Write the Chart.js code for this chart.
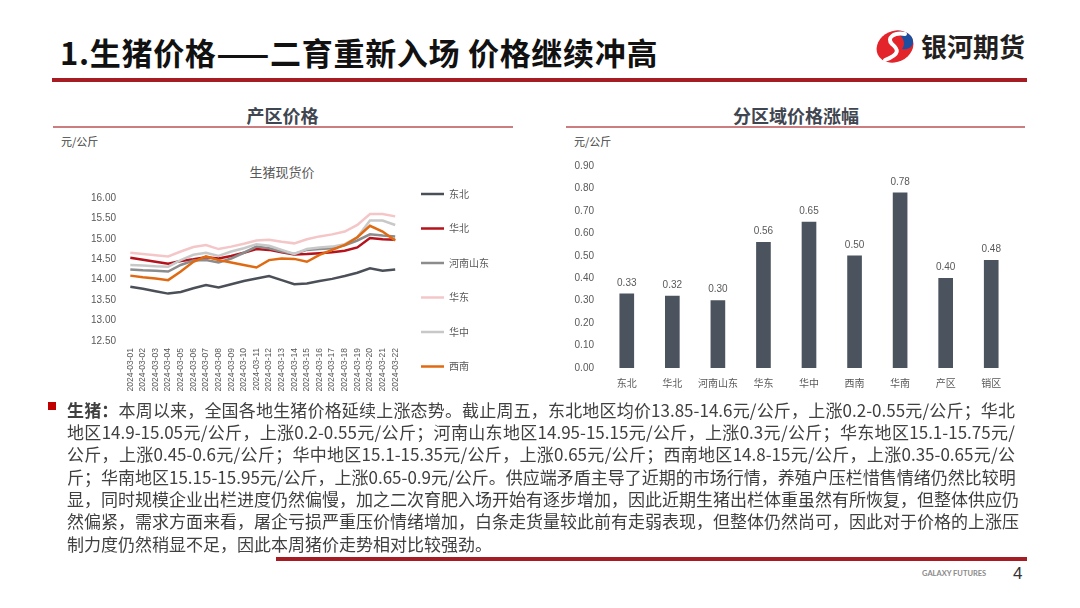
<!DOCTYPE html>
<html>
<head>
<meta charset="utf-8">
<script src="https://cdn.jsdelivr.net/npm/chart.js@4.4.1/dist/chart.umd.min.js"></script>
<style>
  html, body { margin:0; padding:0; background:#ffffff; }
  body { width:1080px; height:608px; position:relative; overflow:hidden; font-family:'Noto Sans CJK SC','Liberation Sans',sans-serif; }
  .abs { position:absolute; white-space:nowrap; }
  .para { position:absolute; left:67px; width:948px; font-size:17px; line-height:22px; color:#404040; white-space:nowrap; text-align:justify; text-align-last:justify; }
  .para.last { text-align-last:left; }
</style>
</head>
<body>
<div class="abs" style="left:60px;top:32px;height:40px;line-height:40px;font-size:31px;letter-spacing:0.7px;font-weight:700;color:#111;">1.生猪价格——二育重新入场 价格继续冲高</div>
<svg class="abs" style="left:874px;top:29px;" width="42" height="35" viewBox="0 0 42 35">
  <ellipse cx="21" cy="17.5" rx="19" ry="15.5" transform="rotate(-25 21 17.5)" fill="#e3242b"/>
  <path d="M22 3 C31 1 40 6 39 14 C38 19 33 21 28 20 C32 15 30 8 22 3 Z" fill="#1e4f9f"/>
  <path d="M31 5 C20 3 12 9 18 15 C24 20 27 25 11 31" stroke="#ffffff" stroke-width="4" fill="none" stroke-linecap="round"/>
</svg>
<div class="abs" style="left:921px;top:30px;height:32px;line-height:32px;font-size:26px;font-weight:700;color:#231f20;">银河期货</div>
<div class="abs" style="left:52px;top:78px;width:975px;height:4px;background:#a51c22;"></div>

<div class="abs" style="left:52px;top:103px;width:461px;height:24px;line-height:24px;text-align:center;font-size:18px;font-weight:700;color:#3f4650;">产区价格</div>
<div class="abs" style="left:53px;top:126px;width:460px;height:2px;background:#cc7d7f;"></div>
<div class="abs" style="left:566px;top:103px;width:460px;height:24px;line-height:24px;text-align:center;font-size:18px;font-weight:700;color:#3f4650;">分区域价格涨幅</div>
<div class="abs" style="left:566px;top:126px;width:459px;height:2px;background:#cc7d7f;"></div>

<div class="abs" style="left:61px;top:133px;height:16px;line-height:16px;font-size:11px;color:#404040;">元/公斤</div>
<div class="abs" style="left:574px;top:133px;height:16px;line-height:16px;font-size:11px;color:#404040;">元/公斤</div>
<div class="abs" style="left:182px;top:163px;width:200px;height:18px;line-height:18px;text-align:center;font-size:13px;color:#595959;">生猪现货价</div>

<canvas id="lineChart" class="abs" style="left:60px;top:160px;" width="444" height="290"></canvas>
<canvas id="barChart" class="abs" style="left:550px;top:150px;" width="464" height="248"></canvas>

<div class="abs" style="left:48px;top:402px;width:8px;height:8px;background:#c00000;"></div>
<div class="para" style="top:399px;"><b>生猪：</b>本周以来，全国各地生猪价格延续上涨态势。截止周五，东北地区均价13.85-14.6元/公斤，上涨0.2-0.55元/公斤；华北</div>
<div class="para" style="top:421px;">地区14.9-15.05元/公斤，上涨0.2-0.55元/公斤；河南山东地区14.95-15.15元/公斤，上涨0.3元/公斤；华东地区15.1-15.75元/</div>
<div class="para" style="top:443px;">公斤，上涨0.45-0.6元/公斤；华中地区15.1-15.35元/公斤，上涨0.65元/公斤；西南地区14.8-15元/公斤，上涨0.35-0.65元/公</div>
<div class="para" style="top:466px;">斤；华南地区15.15-15.95元/公斤，上涨0.65-0.9元/公斤。供应端矛盾主导了近期的市场行情，养殖户压栏惜售情绪仍然比较明</div>
<div class="para" style="top:488px;">显，同时规模企业出栏进度仍然偏慢，加之二次育肥入场开始有逐步增加，因此近期生猪出栏体重虽然有所恢复，但整体供应仍</div>
<div class="para" style="top:510px;">然偏紧，需求方面来看，屠企亏损严重压价情绪增加，白条走货量较此前有走弱表现，但整体仍然尚可，因此对于价格的上涨压</div>
<div class="para last" style="top:533px;">制力度仍然稍显不足，因此本周猪价走势相对比较强劲。</div>

<div class="abs" style="left:276px;top:557px;width:751px;height:4px;background:#a51c22;"></div>
<div class="abs" style="left:922px;top:568px;height:12px;line-height:12px;font-family:Lato,'Liberation Sans',sans-serif;font-size:7.5px;font-weight:700;color:#8a8a8a;">GALAXY FUTURES</div>
<div class="abs" style="left:1013px;top:563px;height:22px;line-height:22px;font-family:'Liberation Sans',sans-serif;font-size:17px;color:#333;">4</div>

<script>
// ---------- data ----------
const dates = ['2024-03-01','2024-03-02','2024-03-03','2024-03-04','2024-03-05','2024-03-06','2024-03-07','2024-03-08','2024-03-09','2024-03-10','2024-03-11','2024-03-12','2024-03-13','2024-03-14','2024-03-15','2024-03-16','2024-03-17','2024-03-18','2024-03-19','2024-03-20','2024-03-21','2024-03-22'];
const seriesNames = ['东北','华北','河南山东','华东','华中','西南'];
const dongbei   = [13.83,13.78,13.72,13.66,13.70,13.79,13.87,13.81,13.89,13.97,14.03,14.09,13.99,13.89,13.91,13.97,14.02,14.09,14.17,14.28,14.22,14.25];
const huabei    = [14.54,14.49,14.44,14.39,14.46,14.50,14.55,14.52,14.58,14.66,14.75,14.73,14.67,14.62,14.63,14.65,14.67,14.71,14.79,15.02,14.99,14.98];
const henanShandong = [14.25,14.23,14.22,14.20,14.36,14.47,14.48,14.42,14.52,14.66,14.81,14.77,14.69,14.63,14.73,14.75,14.77,14.84,14.96,15.11,15.08,15.06];
const huadong   = [14.66,14.63,14.60,14.57,14.69,14.80,14.85,14.75,14.81,14.88,14.96,14.98,14.93,14.89,14.99,15.06,15.11,15.18,15.34,15.61,15.61,15.55];
const huazhong  = [14.36,14.35,14.33,14.32,14.48,14.61,14.66,14.58,14.69,14.77,14.87,14.83,14.73,14.63,14.75,14.79,14.81,14.87,15.04,15.45,15.45,15.34];
const xinan     = [14.10,14.06,14.03,13.99,14.20,14.44,14.57,14.48,14.42,14.36,14.30,14.48,14.52,14.51,14.44,14.61,14.73,14.85,15.04,15.32,15.18,14.96];
const seriesColors = ['#4b5058','#b5121b','#8c8c8c','#f4c6c8','#c8c8c8','#e06a12'];

const regions = ['东北','华北','河南山东','华东','华中','西南','华南','产区','销区'];
const rises   = [0.33,0.32,0.30,0.56,0.65,0.50,0.78,0.40,0.48];

// ---------- chart ----------
const numFont = "'Liberation Sans', Arial, sans-serif";
const cjkFont = "'Noto Sans CJK SC', 'Liberation Sans', sans-serif";
const axisColor = '#595959';

const placeLegend = {
  id: 'placeLegend',
  afterLayout(chart) {
    const l = chart.legend;
    if (!l) return;
    const w = l.width, h = l.height;
    l.left = 336.5; l.right = l.left + w;
    l.top = 4.5; l.bottom = l.top + h;
  }
};

const lineData = [dongbei, huabei, henanShandong, huadong, huazhong, xinan];
new Chart(document.getElementById('lineChart'), {
  type: 'line',
  data: {
    labels: dates,
    datasets: seriesNames.map((name, i) => ({
      label: name,
      data: lineData[i],
      borderColor: seriesColors[i],
      backgroundColor: seriesColors[i],
      borderWidth: 2.5,
      pointRadius: 0,
      tension: 0,
      fill: false,
      order: seriesNames.length - i
    }))
  },
  options: {
    responsive: false,
    animation: false,
    devicePixelRatio: 1,
    layout: { padding: { top: 38, left: 0, right: 0, bottom: 0 } },
    scales: {
      x: {
        offset: true,
        grid: { display: false, drawTicks: false },
        border: { display: false },
        ticks: { autoSkip: false, minRotation: 90, maxRotation: 90, padding: 7, color: axisColor, font: { family: numFont, size: 8.5 } },
        afterFit(s) { s.height = 109; }
      },
      y: {
        min: 12.5, max: 16,
        grid: { display: false, drawTicks: false },
        border: { display: false },
        ticks: { stepSize: 0.5, padding: 8, color: axisColor, font: { family: numFont, size: 10 }, callback: v => Number(v).toFixed(2) },
        afterFit(s) { s.width = 64; }
      }
    },
    plugins: {
      legend: {
        position: 'right',
        align: 'start',
        labels: {
          usePointStyle: true,
          pointStyle: 'line',
          pointStyleWidth: 23,
          padding: 24.5,
          color: axisColor,
          font: { family: cjkFont, size: 10 },
          sort: (a, b) => a.datasetIndex - b.datasetIndex
        }
      },
      tooltip: { enabled: false }
    }
  },
  plugins: [placeLegend]
});

const valueLabels = {
  id: 'valueLabels',
  afterDatasetsDraw(chart) {
    const ctx = chart.ctx;
    const meta = chart.getDatasetMeta(0);
    const vals = chart.data.datasets[0].data;
    ctx.save();
    ctx.font = "10px " + numFont;
    ctx.fillStyle = axisColor;
    ctx.textAlign = 'center';
    ctx.textBaseline = 'middle';
    meta.data.forEach((bar, i) => {
      ctx.fillText(Number(vals[i]).toFixed(2), bar.x, bar.y - 11);
    });
    ctx.restore();
  }
};

new Chart(document.getElementById('barChart'), {
  type: 'bar',
  data: {
    labels: regions,
    datasets: [{ data: rises, backgroundColor: '#4b545e', barThickness: 14 }]
  },
  options: {
    responsive: false,
    animation: false,
    devicePixelRatio: 1,
    layout: { padding: { top: 11.5, left: 0, right: 0, bottom: 0 } },
    scales: {
      x: {
        grid: { display: false, drawTicks: false },
        border: { display: false },
        ticks: { autoSkip: false, minRotation: 0, maxRotation: 0, padding: 9, color: axisColor, font: { family: cjkFont, size: 10 } },
        afterFit(s) { s.height = 30; }
      },
      y: {
        min: 0, max: 0.9,
        grid: { display: false, drawTicks: false },
        border: { display: false },
        ticks: { stepSize: 0.1, padding: 10, color: axisColor, font: { family: numFont, size: 10 }, callback: v => Number(v).toFixed(2) },
        afterFit(s) { s.width = 54; }
      }
    },
    plugins: { legend: { display: false }, tooltip: { enabled: false } }
  },
  plugins: [valueLabels]
});
</script>
</body>
</html>
